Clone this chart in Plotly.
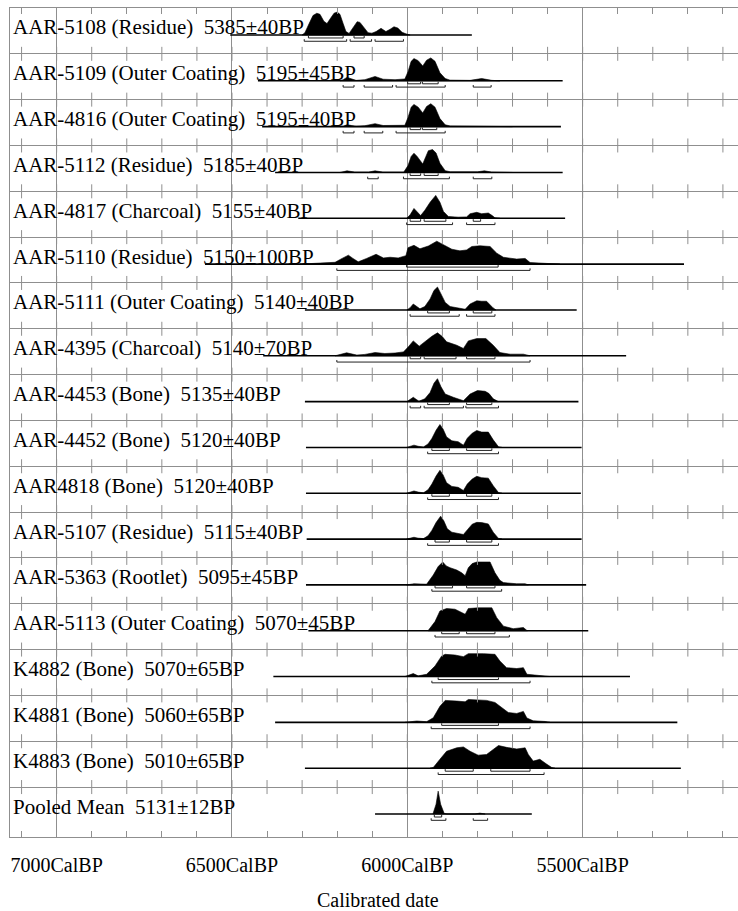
import plotly.graph_objects as go

# ---------------- data ----------------
sample_ids = ["AAR-5108", "AAR-5109", "AAR-4816", "AAR-5112", "AAR-4817", "AAR-5110",
              "AAR-5111", "AAR-4395", "AAR-4453", "AAR-4452", "AAR4818", "AAR-5107",
              "AAR-5363", "AAR-5113", "K4882", "K4881", "K4883", "Pooled Mean"]
materials = ["Residue", "Outer Coating", "Outer Coating", "Residue", "Charcoal", "Residue",
             "Outer Coating", "Charcoal", "Bone", "Bone", "Bone", "Residue",
             "Rootlet", "Outer Coating", "Bone", "Bone", "Bone", ""]
bp_ages = [5385, 5195, 5195, 5185, 5155, 5150, 5140, 5140, 5135, 5120, 5120, 5115,
           5095, 5070, 5070, 5060, 5010, 5131]
bp_errs = [40, 45, 40, 40, 40, 100, 40, 70, 40, 40, 40, 40, 45, 45, 65, 65, 65, 12]

# calibration curve span drawn for each row (cal BP)
line_start = [6505, 6426, 6414, 6377, 6311, 6577, 6292, 6411, 6292, 6289, 6289, 6287,
              6289, 6282, 6382, 6377, 6292, 6092]
line_end = [5816, 5557, 5562, 5557, 5550, 5211, 5517, 5376, 5512, 5503, 5505, 5503,
            5490, 5484, 5365, 5230, 5220, 5645]

# 68.2% and 95.4% ranges (cal BP)
range68 = [
    [(6282, 6183), (6152, 6123)],
    [(5999, 5962), (5957, 5912)],
    [(5992, 5962), (5957, 5916)],
    [(5992, 5962), (5952, 5912)],
    [(5992, 5962), (5952, 5890), (5812, 5791)],
    [(6002, 5741)],
    [(5942, 5880), (5812, 5759)],
    [(5992, 5962), (5952, 5861), (5831, 5750)],
    [(5942, 5880), (5831, 5759)],
    [(5930, 5880), (5831, 5759)],
    [(5930, 5880), (5831, 5759)],
    [(5921, 5880), (5831, 5759)],
    [(5921, 5871), (5831, 5750)],
    [(5902, 5852), (5831, 5750)],
    [(5912, 5740)],
    [(5902, 5740)],
    [(5892, 5812), (5762, 5650)],
    [(5923, 5902)],
]
range95 = [
    [(6294, 6173), (6163, 6102), (6092, 6011)],
    [(6183, 6152), (6123, 6042), (6032, 5892), (5812, 5761)],
    [(6183, 6152), (6123, 6070), (6032, 5892)],
    [(6113, 6083), (6011, 5880), (5812, 5759)],
    [(6002, 5871), (5831, 5750)],
    [(6201, 5650)],
    [(5992, 5852), (5831, 5750)],
    [(6201, 5650)],
    [(5992, 5962), (5952, 5840), (5833, 5740)],
    [(5942, 5740)],
    [(5942, 5740)],
    [(5942, 5740)],
    [(5930, 5731)],
    [(5921, 5709)],
    [(5930, 5650)],
    [(5932, 5650)],
    [(5912, 5610)],
    [(5932, 5890), (5812, 5771)],
]

# probability densities (cal BP, relative density)
dens_aar5108 = [(6300, 0), (6292, 0.1), (6280, 0.5), (6269, 0.85), (6258, 0.95), (6249, 0.9),
                (6238, 0.6), (6229, 0.5), (6218, 0.75), (6209, 0.95), (6200, 1.0), (6192, 0.9),
                (6183, 0.5), (6175, 0.15), (6166, 0.07), (6155, 0.3), (6143, 0.58), (6135, 0.55),
                (6123, 0.3), (6112, 0.1), (6101, 0.08), (6089, 0.15), (6075, 0.29), (6061, 0.15),
                (6049, 0.25), (6038, 0.36), (6027, 0.3), (6015, 0.12), (6004, 0.05), (5992, 0)]
dens_aar5109 = [(6192, 0), (6183, 0.05), (6172, 0.15), (6161, 0.1), (6146, 0.02), (6121, 0.05),
                (6092, 0.19), (6069, 0.07), (6035, 0.05), (6007, 0.08), (5998, 0.4), (5989, 0.85),
                (5981, 0.97), (5969, 0.88), (5956, 0.65), (5945, 0.9), (5933, 1.0), (5921, 0.85),
                (5907, 0.35), (5892, 0.1), (5878, 0.03), (5821, 0.02), (5788, 0.1), (5759, 0.02),
                (5736, 0)]
dens_aar4816 = [(6192, 0), (6183, 0.02), (6172, 0.08), (6161, 0.05), (6146, 0.02), (6121, 0.04),
                (6092, 0.13), (6069, 0.05), (6035, 0.04), (6007, 0.06), (5998, 0.4), (5989, 0.85),
                (5981, 0.97), (5969, 0.85), (5956, 0.6), (5945, 0.88), (5933, 1.0), (5921, 0.85),
                (5907, 0.35), (5892, 0.08), (5878, 0.03), (5821, 0.02), (5788, 0.04), (5740, 0.01),
                (5700, 0)]
dens_aar5112 = [(6192, 0), (6172, 0.07), (6150, 0.02), (6110, 0.02), (6092, 0.07), (6070, 0.02),
                (6010, 0.02), (5998, 0.3), (5989, 0.7), (5981, 0.84), (5972, 0.7), (5956, 0.37),
                (5947, 0.7), (5940, 0.95), (5928, 1.0), (5918, 0.85), (5907, 0.4), (5892, 0.08),
                (5878, 0.03), (5800, 0.03), (5780, 0.07), (5760, 0.02), (5700, 0)]
dens_aar4817 = [(6002, 0), (5992, 0.15), (5981, 0.43), (5972, 0.3), (5962, 0.12), (5950, 0.35),
                (5935, 0.7), (5919, 1.0), (5907, 0.7), (5897, 0.3), (5883, 0.08), (5855, 0.05),
                (5831, 0.06), (5821, 0.2), (5802, 0.26), (5788, 0.2), (5769, 0.23), (5758, 0.12),
                (5750, 0.02), (5736, 0)]
dens_aar5110 = [(6306, 0), (6249, 0.03), (6206, 0.08), (6186, 0.25), (6168, 0.39), (6155, 0.25),
                (6140, 0.1), (6116, 0.25), (6089, 0.43), (6068, 0.27), (6049, 0.3), (6026, 0.27),
                (6004, 0.37), (5998, 0.72), (5981, 0.82), (5964, 0.67), (5940, 0.79), (5916, 1.0),
                (5897, 0.85), (5873, 0.65), (5850, 0.58), (5831, 0.62), (5816, 0.77), (5793, 0.8),
                (5764, 0.77), (5745, 0.48), (5726, 0.3), (5688, 0.22), (5664, 0.25), (5650, 0.07),
                (5602, 0.03), (5565, 0)]
dens_aar5111 = [(6001, 0), (5992, 0.1), (5983, 0.26), (5973, 0.15), (5964, 0.05), (5950, 0.15),
                (5935, 0.48), (5924, 0.85), (5914, 1.0), (5904, 0.7), (5892, 0.33), (5878, 0.15),
                (5859, 0.1), (5835, 0.03), (5821, 0.26), (5802, 0.4), (5788, 0.38), (5774, 0.38),
                (5756, 0.1), (5747, 0)]
dens_aar4395 = [(6206, 0), (6173, 0.13), (6144, 0.03), (6121, 0.06), (6092, 0.14), (6064, 0.1),
                (6035, 0.12), (6011, 0.17), (5997, 0.39), (5983, 0.65), (5966, 0.42), (5945, 0.68),
                (5930, 0.85), (5914, 1.0), (5901, 0.85), (5888, 0.61), (5859, 0.46), (5840, 0.32),
                (5826, 0.65), (5802, 0.75), (5776, 0.75), (5755, 0.46), (5736, 0.14), (5707, 0.07),
                (5669, 0.07), (5650, 0)]
dens_aar4453 = [(6001, 0), (5992, 0.08), (5983, 0.19), (5975, 0.1), (5967, 0.02), (5950, 0.12),
                (5935, 0.4), (5924, 0.8), (5914, 1.0), (5904, 0.65), (5892, 0.33), (5869, 0.19),
                (5840, 0.04), (5821, 0.33), (5800, 0.48), (5778, 0.45), (5767, 0.35), (5755, 0.12),
                (5740, 0)]
dens_aar4452 = [(6002, 0), (5992, 0.05), (5981, 0.1), (5969, 0.05), (5954, 0.02), (5941, 0.15),
                (5930, 0.39), (5918, 0.75), (5907, 1.0), (5898, 0.8), (5888, 0.46), (5873, 0.29),
                (5855, 0.25), (5840, 0.1), (5829, 0.4), (5815, 0.62), (5802, 0.74), (5788, 0.67),
                (5769, 0.67), (5755, 0.33), (5740, 0.03), (5730, 0)]
dens_aar4818 = [(6002, 0), (5992, 0.05), (5981, 0.1), (5969, 0.05), (5954, 0.02), (5941, 0.15),
                (5930, 0.4), (5918, 0.75), (5907, 1.0), (5898, 0.8), (5888, 0.46), (5873, 0.3),
                (5855, 0.26), (5840, 0.12), (5829, 0.4), (5815, 0.62), (5802, 0.74), (5788, 0.68),
                (5769, 0.66), (5755, 0.33), (5740, 0.03), (5730, 0)]
dens_aar5107 = [(6002, 0), (5992, 0.05), (5981, 0.08), (5969, 0.04), (5954, 0.02), (5941, 0.14),
                (5930, 0.38), (5918, 0.72), (5905, 1.0), (5896, 0.8), (5886, 0.45), (5873, 0.3),
                (5855, 0.26), (5840, 0.2), (5829, 0.4), (5815, 0.65), (5802, 0.73), (5788, 0.72),
                (5769, 0.66), (5755, 0.3), (5740, 0.03), (5730, 0)]
dens_aar5363 = [(6002, 0), (5981, 0.05), (5945, 0.03), (5926, 0.43), (5912, 0.8), (5899, 1.0),
                (5889, 0.83), (5878, 0.75), (5859, 0.65), (5845, 0.53), (5835, 0.4), (5826, 0.75),
                (5815, 0.93), (5802, 1.0), (5764, 1.0), (5750, 0.53), (5736, 0.2), (5726, 0.1),
                (5688, 0.05), (5664, 0.05), (5655, 0)]
dens_aar5113 = [(5941, 0), (5921, 0.4), (5907, 0.86), (5888, 0.97), (5864, 0.94), (5845, 0.8),
                (5835, 0.72), (5826, 0.97), (5798, 1.0), (5759, 1.0), (5745, 0.57), (5726, 0.2),
                (5698, 0.09), (5669, 0.14), (5658, 0)]
dens_k4882 = [(6007, 0), (5997, 0.05), (5983, 0.13), (5969, 0.03), (5945, 0.1), (5921, 0.46),
              (5902, 0.9), (5892, 0.97), (5864, 0.94), (5840, 0.87), (5826, 1.0), (5783, 1.0),
              (5750, 0.97), (5736, 0.68), (5717, 0.39), (5688, 0.35), (5669, 0.39), (5659, 0.1),
              (5636, 0.06), (5602, 0.03), (5593, 0)]
dens_k4881 = [(6007, 0), (5992, 0.04), (5973, 0.06), (5945, 0.03), (5926, 0.2), (5907, 0.7),
              (5892, 0.96), (5859, 0.93), (5835, 0.9), (5826, 1.0), (5774, 0.96), (5750, 0.87),
              (5731, 0.65), (5712, 0.43), (5688, 0.39), (5669, 0.48), (5659, 0.19), (5641, 0.07),
              (5607, 0.04), (5593, 0)]
dens_k4883 = [(5935, 0), (5926, 0.03), (5907, 0.39), (5888, 0.74), (5859, 0.89), (5840, 0.93),
              (5821, 0.74), (5798, 0.57), (5774, 0.6), (5755, 0.81), (5740, 0.99), (5717, 0.91),
              (5688, 0.84), (5664, 0.89), (5655, 0.6), (5641, 0.31), (5622, 0.39), (5602, 0.17),
              (5588, 0.03), (5579, 0)]
dens_pooled = [(5927, 0), (5918, 0.43), (5912, 1.0), (5905, 0.43), (5895, 0.03), (5887, 0),
               (5807, 0), (5793, 0.04), (5778, 0)]

densities = [dens_aar5108, dens_aar5109, dens_aar4816, dens_aar5112, dens_aar4817, dens_aar5110,
             dens_aar5111, dens_aar4395, dens_aar4453, dens_aar4452, dens_aar4818, dens_aar5107,
             dens_aar5363, dens_aar5113, dens_k4882, dens_k4881, dens_k4883, dens_pooled]

axis_hundreds = list(range(7100, 5000, -100))
major_ticks = [7000, 6500, 6000, 5500]
x_title = "Calibrated date"

# ---------------- layout constants ----------------
FONT = "Liberation Serif, Times New Roman, serif"
GRID = "#8f8f8f"
N = len(sample_ids)
BASE_OFF = 0.589     # baseline position inside a row (row units from its top)
PEAK = 0.50          # height of a normalised peak (row units)
OFF68 = 0.065
OFF95 = 0.137
TICKH = 0.045
X_LEFT, X_RIGHT = 7133, 5057
Y_BOTTOM = 18.09

fig = go.Figure()

for i, d in enumerate(densities):
    base = i + BASE_OFF
    xs = [p[0] for p in d]
    ys = [base - p[1] * PEAK for p in d]
    fig.add_trace(go.Scatter(x=xs + [xs[-1], xs[0]], y=ys + [base, base], mode="lines",
                             fill="toself", fillcolor="black",
                             line=dict(color="black", width=0.6), hoverinfo="skip",
                             showlegend=False))
    fig.add_trace(go.Scatter(x=[line_start[i], line_end[i]], y=[base, base], mode="lines",
                             line=dict(color="black", width=1.6), hoverinfo="skip",
                             showlegend=False))

def bracket_trace(ranges, off):
    bx, by = [], []
    for i, rr in enumerate(ranges):
        y0 = i + BASE_OFF + off
        for a, b in rr:
            bx += [a, a, b, b, None]
            by += [y0 - TICKH, y0, y0, y0 - TICKH, None]
    return go.Scatter(x=bx, y=by, mode="lines", line=dict(color="#222222", width=1),
                      hoverinfo="skip", showlegend=False)

fig.add_trace(bracket_trace(range68, OFF68))
fig.add_trace(bracket_trace(range95, OFF95))

# tick marks crossing the row separators
tx, ty = [], []
for r in range(1, N):
    for h in axis_hundreds:
        tx.append(h)
        ty.append(r)
fig.add_trace(go.Scatter(x=tx, y=ty, mode="markers",
                         marker=dict(symbol="line-ns", size=10,
                                     line=dict(color=GRID, width=1)),
                         hoverinfo="skip", showlegend=False))

# labels
for i in range(N):
    if materials[i]:
        txt = f"{sample_ids[i]} ({materials[i]})\u00a0\u00a0{bp_ages[i]}±{bp_errs[i]}BP"
    else:
        txt = f"{sample_ids[i]}\u00a0\u00a0{bp_ages[i]}±{bp_errs[i]}BP"
    fig.add_annotation(x=0, xref="paper", xanchor="left", xshift=1,
                       y=i + BASE_OFF, yref="y", yanchor="middle", yshift=7.5,
                       text=txt, showarrow=False,
                       font=dict(family=FONT, size=21, color="black"))

fig.add_annotation(x=0.505, xref="paper", y=0, yref="paper", yanchor="top", yshift=-50,
                   text=x_title, showarrow=False,
                   font=dict(family=FONT, size=20, color="black"))

ticktext = [f"{h}CalBP" if h in major_ticks else "" for h in axis_hundreds]

fig.update_layout(
    width=738, height=911, autosize=False,
    margin=dict(l=10, r=0, t=8, b=74),
    paper_bgcolor="white", plot_bgcolor="white",
    xaxis=dict(range=[X_LEFT, X_RIGHT], tickmode="array", tickvals=axis_hundreds,
               ticktext=ticktext, ticks="inside", ticklen=6, tickcolor=GRID, tickwidth=1,
               showline=True, linecolor=GRID, linewidth=1, mirror="ticks",
               showgrid=False, zeroline=False, ticklabelstandoff=10,
               tickfont=dict(family=FONT, size=20, color="black"),
               minor=dict(tickmode="array", tickvals=major_ticks, showgrid=True,
                          gridcolor=GRID, gridwidth=1, ticks="")),
    yaxis=dict(range=[Y_BOTTOM, 0], tickmode="array", tickvals=list(range(1, N)),
               showticklabels=False, ticks="", showgrid=True, gridcolor=GRID, gridwidth=1,
               showline=True, linecolor=GRID, linewidth=1, mirror=False, zeroline=False),
)

fig.write_html("out.html")
